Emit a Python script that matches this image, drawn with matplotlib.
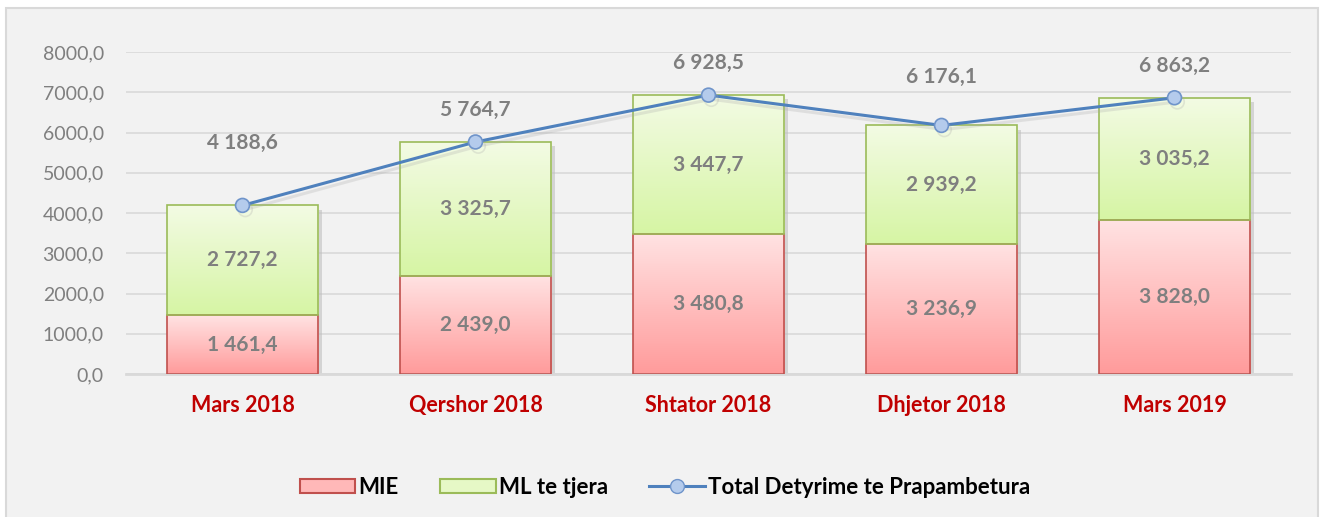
import matplotlib
matplotlib.use("Agg")
import matplotlib.pyplot as plt
import numpy as np
from matplotlib.patches import Rectangle, Patch
from matplotlib.lines import Line2D
from matplotlib.colors import LinearSegmentedColormap
import matplotlib.patheffects as pe

plt.rcParams['font.family'] = ['Lato', 'DejaVu Sans']

categories = ["Mars 2018", "Qershor 2018", "Shtator 2018", "Dhjetor 2018", "Mars 2019"]
mie = [1461.4, 2439.0, 3480.8, 3236.9, 3828.0]
ml_tjera = [2727.2, 3325.7, 3447.7, 2939.2, 3035.2]
total = [4188.6, 5764.7, 6928.5, 6176.1, 6863.2]
yticks = [0, 1000, 2000, 3000, 4000, 5000, 6000, 7000, 8000]
total_label_offsets = [45, 23, 23, 35, 23]  # points above the marker


def fmt(v):
    s = f"{v:,.1f}"
    return s.replace(",", " ").replace(".", ",")


def fmt_axis(v):
    return f"{v:.1f}".replace(".", ",")


W, H = 1325, 517
fig = plt.figure(figsize=(W / 100, H / 100), dpi=100)
fig.patch.set_facecolor("white")
fig.patches.append(Rectangle((6 / W, -0.05), (1318 - 6) / W, 1 - 8 / H + 0.05,
                             transform=fig.transFigure, facecolor="#F2F2F2",
                             edgecolor="#D9D9D9", linewidth=1.5, zorder=-10))

ax = fig.add_axes([126 / W, 143 / H, (1291 - 126) / W, (465 - 143) / H])
ax.set_facecolor("none")
x = np.arange(len(categories))
width = 0.65

red_cmap = LinearSegmentedColormap.from_list("r", ["#FF9B9B", "#FFE3E3"])
green_cmap = LinearSegmentedColormap.from_list("g", ["#D6F5A4", "#F3FBE4"])

# soft drop shadow behind the stacked columns
ax.bar(x, total, width, color="none", edgecolor="none", zorder=1.5,
       path_effects=[pe.SimplePatchShadow(offset=(3, -3), shadow_rgbFace="#BDBDBD", alpha=0.55)])

bars_mie = ax.bar(x, mie, width, facecolor="none", edgecolor="#C0504D", linewidth=1.2, zorder=3, label="MIE")
bars_ml = ax.bar(x, ml_tjera, width, bottom=mie, facecolor="none", edgecolor="#9BBB59", linewidth=1.2,
                 zorder=3, label="ML te tjera")

grad = np.linspace(0, 1, 256).reshape(-1, 1)
for bars, cmap in ((bars_mie, red_cmap), (bars_ml, green_cmap)):
    for b in bars:
        x0, y0 = b.get_x(), b.get_y()
        w, h = b.get_width(), b.get_height()
        im = ax.imshow(grad, cmap=cmap, aspect="auto", origin="lower",
                       extent=[x0, x0 + w, y0, y0 + h], zorder=2)
        im.set_clip_path(b)

line_shadow = [pe.SimpleLineShadow(offset=(2, -3), shadow_color="#A6A6A6", alpha=0.25), pe.Normal()]
ax.plot(x, total, color="#4F81BD", linewidth=2.2, marker="o", markersize=10,
        markerfacecolor="#B4CBEC", markeredgecolor="#6F94CA", markeredgewidth=1.2,
        zorder=5, label="Total Detyrime te Prapambetura", path_effects=line_shadow)

lbl = dict(ha="center", va="center", fontsize=15, fontweight="bold", color="#7F7F7F", zorder=6)
for i in range(len(categories)):
    ax.text(x[i], mie[i] / 2, fmt(mie[i]), **lbl)
    ax.text(x[i], mie[i] + ml_tjera[i] / 2, fmt(ml_tjera[i]), **lbl)
    ax.annotate(fmt(total[i]), (x[i], total[i]), xytext=(0, total_label_offsets[i]),
                textcoords="offset points", **lbl)

ax.set_xlim(-0.5, len(categories) - 0.5)
ax.set_ylim(0, 8000)
ax.set_yticks(yticks)
ax.set_yticklabels([fmt_axis(v) for v in yticks], fontsize=14, color="#7F7F7F")
ax.set_xticks(x)
ax.set_xticklabels(categories, fontsize=15.5, fontweight="bold", color="#C00000")
ax.tick_params(axis="both", length=0)
ax.tick_params(axis="y", pad=16)
ax.tick_params(axis="x", pad=15)
ax.grid(axis="y", color="#D9D9D9", linewidth=1.2, zorder=0)
ax.set_axisbelow(True)
for s in ("top", "right", "left"):
    ax.spines[s].set_visible(False)
ax.spines["bottom"].set_color("#D9D9D9")
ax.spines["bottom"].set_linewidth(2)

handles = [Patch(facecolor="#FFB8B8", edgecolor="#C0504D", linewidth=1.5, label="MIE"),
           Patch(facecolor="#E6F8C6", edgecolor="#9BBB59", linewidth=1.5, label="ML te tjera"),
           Line2D([0], [0], color="#4F81BD", linewidth=2.2, marker="o", markersize=10,
                  markerfacecolor="#B4CBEC", markeredgecolor="#6F94CA",
                  label="Total Detyrime te Prapambetura")]
leg = fig.legend(handles=handles, loc="center", bbox_to_anchor=(665 / W, 1 - 487 / H), ncol=3,
                 frameon=False, handlelength=2.5, handleheight=0.6, handletextpad=0.15,
                 columnspacing=1.85, prop={"weight": "bold", "size": 16})
for t in leg.get_texts():
    t.set_color("black")

fig.savefig("out.png", dpi=100, facecolor=fig.get_facecolor())
